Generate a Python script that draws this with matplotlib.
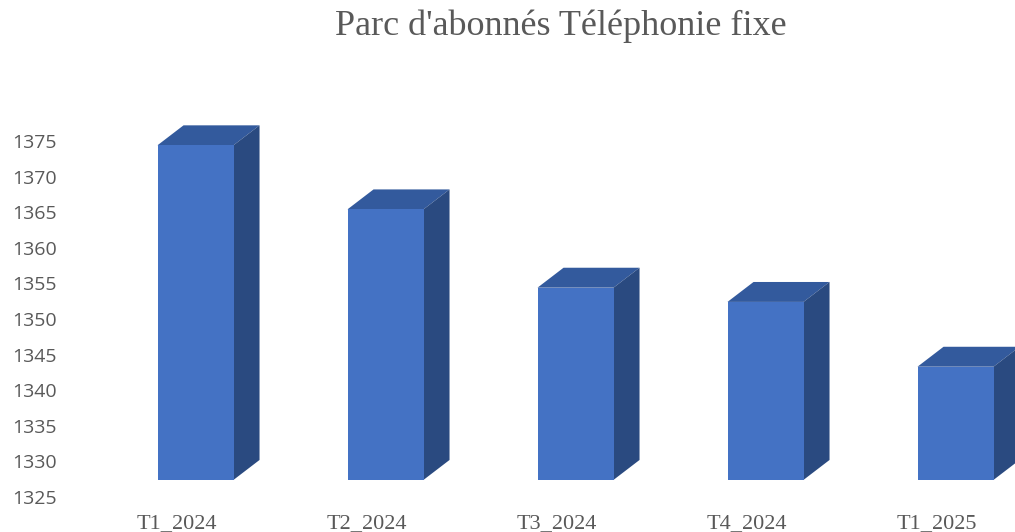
import matplotlib.pyplot as plt
from matplotlib.patches import Polygon
import numpy as np

# Data
categories = ["T1_2024", "T2_2024", "T3_2024", "T4_2024", "T1_2025"]
abonnes = [1374.4, 1365.4, 1354.4, 1352.4, 1343.3]
y_ticks = [1325, 1330, 1335, 1340, 1345, 1350, 1355, 1360, 1365, 1370, 1375]

# 3D look
front_col = "#4472C4"
top_col = "#335A9D"
side_col = "#2A4A80"
base = 1327.4      # front edge of the floor
bar_w = 0.4
dx, dy = 0.137, 2.8  # depth offset

fig = plt.figure(figsize=(10.15, 5.32), dpi=100)
ax = fig.add_axes([100 / 1015, 1 - 500 / 532, 1 - 100 / 1015, 400 / 532])

x = np.arange(len(categories))
ax.bar(x, np.array(abonnes) - base, bottom=base, width=bar_w,
       color=front_col, zorder=3)

for xi, v in zip(x, abonnes):
    l, r = xi - bar_w / 2, xi + bar_w / 2
    top = Polygon([(l, v), (r, v), (r + dx, v + dy), (l + dx, v + dy)],
                  closed=True, facecolor=top_col, edgecolor="none", zorder=2)
    side = Polygon([(r, base), (r + dx, base + dy), (r + dx, v + dy), (r, v)],
                   closed=True, facecolor=side_col, edgecolor="none", zorder=2)
    ax.add_patch(top)
    ax.add_patch(side)

ax.set_xlim((100 - 195.5) / 190, (1015 - 195.5) / 190)
ax.set_ylim(1375 - 359 / 7.12, 1375 + 41 / 7.12)

ax.set_yticks(y_ticks)
ax.set_yticklabels([str(t) for t in y_ticks], fontsize=14, color="#595959",
                   family="Open Sans")
ax.set_xticks(x - 0.1)
ax.set_xticklabels(categories, fontsize=16, color="#595959",
                   family="Liberation Serif")
ax.tick_params(axis="y", length=0, pad=31)
ax.tick_params(axis="x", length=0, pad=10)
for s in ax.spines.values():
    s.set_visible(False)

fig.text(561 / 1015, 1 - 26 / 532, "Parc d'abonnés Téléphonie fixe",
         ha="center", va="center", fontsize=26, color="#595959",
         family="Liberation Serif")

fig.savefig("out.png", dpi=100)
